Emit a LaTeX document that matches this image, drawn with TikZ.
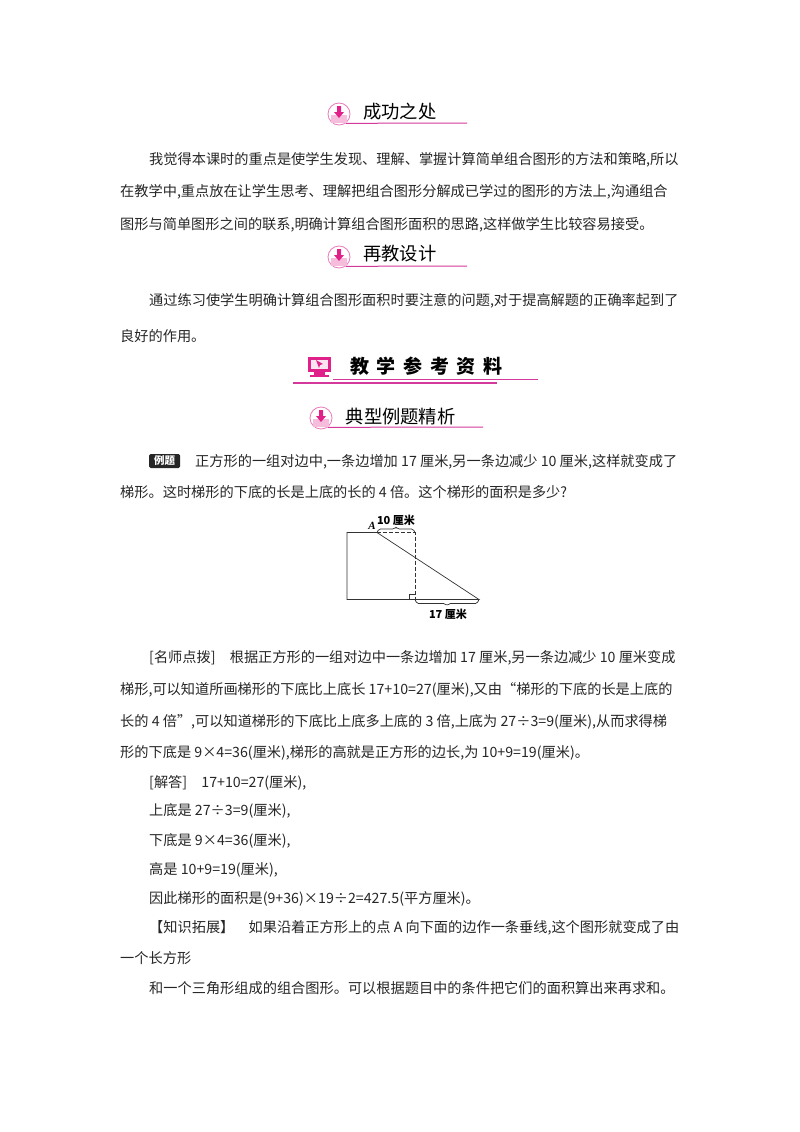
\documentclass[tikz,border=0pt]{standalone}
\usepackage{fontspec}
\setmainfont{Noto Sans CJK SC}
\newfontfamily\latinfont{Liberation Serif}
\XeTeXlinebreaklocale "zh"
\XeTeXlinebreakskip=0pt plus 2pt minus 0.5pt
\definecolor{rosepink}{HTML}{E0218A}
\definecolor{rulepink}{HTML}{D4389A}
\tikzset{
    bodyline/.style={anchor=west,inner sep=0pt,yshift=-1pt,font=\fontsize{14.2}{17}\selectfont\color{black!85}},
    fullline/.style={bodyline,text width=#1,align=justify},
    headline/.style={anchor=west,inner sep=0pt,font=\fontsize{18.3}{20}\selectfont},
    rule/.style={draw=rulepink,line width=1pt},
    badge/.style={circle,draw=rosepink!60,fill=white,line width=0.8pt,minimum size=22pt,inner sep=0pt},
    figline/.style={draw=black!80,line width=0.7pt},
    figdash/.style={figline,line width=0.9pt,dash pattern=on 4pt off 2pt},
    figbrace/.style={figline,rounded corners=1.5pt},
    figtext/.style={inner sep=0pt,font=\fontsize{11}{12}\selectfont\bfseries}
}
\newcommand{\badgeicon}[1]{%
    \fill[rosepink!30] ([shift={(-8,1)}]#1.center) rectangle ([shift={(8,9)}]#1.center);
    \fill[rosepink] ([shift={(-2,-8)}]#1.center) -- ([shift={(2,-8)}]#1.center) -- ([shift={(2,-2)}]#1.center)
        -- ([shift={(5,-2)}]#1.center) -- ([shift={(0,4)}]#1.center) -- ([shift={(-5,-2)}]#1.center)
        -- ([shift={(-2,-2)}]#1.center) -- cycle;
}
\begin{document}
\begin{tikzpicture}[x=1pt,y=-1pt]
    \useasboundingbox (0,0) rectangle (800,1132);

    % first heading
    \coordinate (ruleAend) at (467,123);
    \node[badge] (badgeA) at (339,114) {};
    \draw[rule] (badgeA.-55) -- (ruleAend);
    \badgeicon{badgeA}
    \node[headline] (headA) at (363,112) {成功之处};

    \node[fullline=531pt] (lineA) at (149,159) {\parfillskip=0pt 我觉得本课时的重点是使学生发现、理解、掌握计算简单组合图形的方法和策略,所以};
    \node[fullline=560pt] (lineB) at (120,191) {\parfillskip=0pt 在教学中,重点放在让学生思考、理解把组合图形分解成已学过的图形的方法上,沟通组合};
    \node[bodyline] (lineC) at (120,224) {图形与简单图形之间的联系,明确计算组合图形面积的思路,这样做学生比较容易接受。};

    % second heading
    \coordinate (ruleBend) at (467,266);
    \node[badge] (badgeB) at (339,257) {};
    \draw[rule] (badgeB.-55) -- (ruleBend);
    \badgeicon{badgeB}
    \node[headline] (headB) at (363,254) {再教设计};

    \node[fullline=531pt] (lineD) at (149,300) {\parfillskip=0pt 通过练习使学生明确计算组合图形面积时要注意的问题,对于提高解题的正确率起到了};
    \node[bodyline] (lineE) at (120,335) {良好的作用。};

    % big heading
    \node[headline,font=\fontsize{19}{20}\selectfont\bfseries] (headC) at (350,366) {教\hspace{7.6pt}学\hspace{7.6pt}参\hspace{7.6pt}考\hspace{7.6pt}资\hspace{7.6pt}料};
    \coordinate (ruleCa) at (333,379);
    \coordinate (ruleCb) at (538,379);
    \coordinate (ruleDa) at (293,383);
    \coordinate (ruleDb) at (497,383);
    \draw[rule] (ruleCa) -- (ruleCb);
    \draw[rule,line width=1.4pt] (ruleDa) -- (ruleDb);
    \node[draw=rosepink,fill=rosepink!12,line width=3pt,minimum width=20pt,minimum height=12pt,inner sep=0pt] (screen) at (319.5,364.5) {};
    \fill[rosepink] (314,372) rectangle (325,375);
    \fill[rosepink] (310,375) rectangle (329,377);
    \fill[rosepink] (316,360) -- (323,364) -- (320,365) -- (319,368) -- cycle;

    % third heading
    \coordinate (ruleEend) at (483,427);
    \node[badge] (badgeC) at (321,418) {};
    \draw[rule] (badgeC.-55) -- (ruleEend);
    \badgeicon{badgeC}
    \node[headline] (headD) at (345.5,416.5) {典型例题精析};

    \node[anchor=west,fill=black!85,rounded corners=1.5pt,text=white,inner sep=0pt,font=\fontsize{10.5}{11}\selectfont\bfseries,minimum width=31pt,minimum height=14pt] (tagA) at (149,461) {例题};
    \node[fullline=485pt] (lineF) at (195,461) {\parfillskip=0pt 正方形的一组对边中,一条边增加 17 厘米,另一条边减少 10 厘米,这样就变成了};
    \node[bodyline] (lineG) at (120,491) {梯形。这时梯形的下底的长是上底的长的 4 倍。这个梯形的面积是多少?};

    % trapezoid
    \coordinate (TL) at (347,532.5);
    \coordinate (BL) at (347,599.5);
    \coordinate (A) at (377,532.5);
    \coordinate (TR) at (415,532.5);
    \coordinate (BM) at (415,599.5);
    \coordinate (BR) at (479,599.5);
    \coordinate (cornerA) at (409,599.5);
    \coordinate (cornerB) at (409,594);
    \coordinate (cornerC) at (415,594);
    \draw[figline] (A) -- (TL) -- (BL) -- (BR) -- (A);
    \draw[figdash] (A) -- (TR) -- (BM);
    \draw[figline] (cornerA) -- (cornerB) -- (cornerC);
    \draw[figbrace] (A) -- ++(2,-3.5) -- ++(15,0) -- ++(2,-2) -- ++(2,2) -- ++(15,0) -- (TR);
    \draw[figbrace] (BM) -- ++(2,4) -- ++(28,0) -- ++(2,2.5) -- ++(2,-2.5) -- ++(28,0) -- (BR);
    \node[inner sep=0pt,font=\fontsize{11}{12}\latinfont\itshape\bfseries] (labelA) at (372,526) {A};
    \node[figtext] (labelB) at (396,520) {10 厘米};
    \node[figtext] (labelC) at (448,614) {17 厘米};

    % analysis
    \node[fullline=531pt] (lineH) at (149,657) {\parfillskip=0pt [名师点拨]\quad 根据正方形的一组对边中一条边增加 17 厘米,另一条边减少 10 厘米变成};
    \node[fullline=560pt] (lineI) at (120,689) {\parfillskip=0pt 梯形,可以知道所画梯形的下底比上底长 17+10=27(厘米),又由“梯形的下底的长是上底的};
    \node[fullline=560pt] (lineJ) at (120,721) {\parfillskip=0pt 长的 4 倍”,可以知道梯形的下底比上底多上底的 3 倍,上底为 27÷3=9(厘米),从而求得梯};
    \node[bodyline] (lineK) at (120,752) {形的下底是 9×4=36(厘米),梯形的高就是正方形的边长,为 10+9=19(厘米)。};

    \node[bodyline] (lineL) at (149,782) {[解答]\quad 17+10=27(厘米),};
    \node[bodyline] (lineM) at (149,810) {上底是 27÷3=9(厘米),};
    \node[bodyline] (lineN) at (149,840) {下底是 9×4=36(厘米),};
    \node[bodyline] (lineO) at (149,869) {高是 10+9=19(厘米),};
    \node[bodyline] (lineP) at (149,898) {因此梯形的面积是(9+36)×19÷2=427.5(平方厘米)。};

    \node[fullline=531pt] (lineQ) at (149,927) {\parfillskip=0pt 【知识拓展】\quad 如果沿着正方形上的点 A 向下面的边作一条垂线,这个图形就变成了由};
    \node[bodyline] (lineR) at (120,957) {一个长方形};
    \node[bodyline] (lineS) at (149,987) {和一个三角形组成的组合图形。可以根据题目中的条件把它们的面积算出来再求和。};
\end{tikzpicture}
\end{document}
